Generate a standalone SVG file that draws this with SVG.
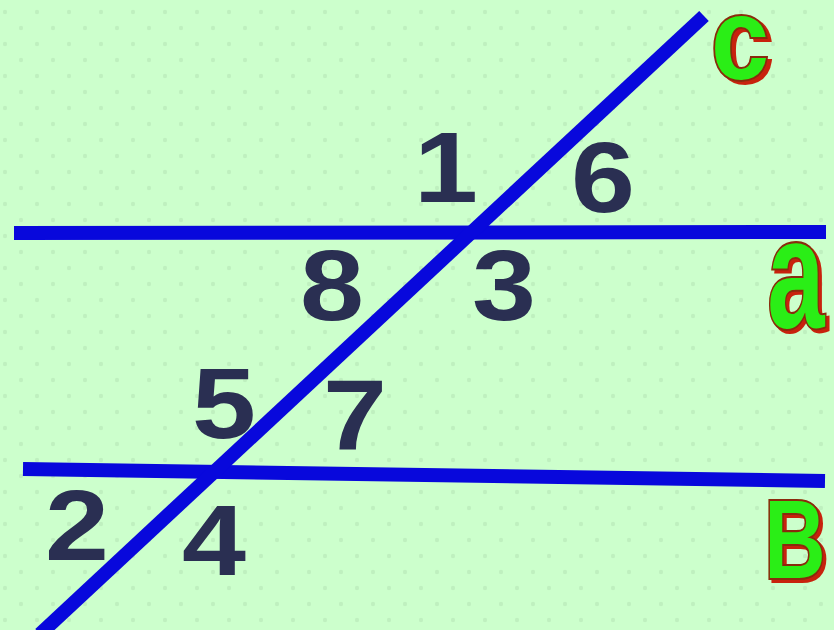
<svg xmlns="http://www.w3.org/2000/svg" width="834" height="630" viewBox="0 0 834 630">
<defs>
<pattern id="dots" width="32" height="32" patternUnits="userSpaceOnUse">
<circle cx="21" cy="28" r="2.2" fill="#b6e6b6" opacity="0.6"/>
<circle cx="5" cy="12" r="2.2" fill="#b6e6b6" opacity="0.6"/>
</pattern>
<filter id="shadow" x="-20%" y="-20%" width="150%" height="150%">
<feOffset in="SourceAlpha" dx="4" dy="3" result="off"/>
<feFlood flood-color="#c8240c"/>
<feComposite in2="off" operator="in" result="sh"/>
<feMerge><feMergeNode in="sh"/><feMergeNode in="SourceGraphic"/></feMerge>
</filter>
<style>
.ln{stroke:#0808dc;stroke-width:14;fill:none;stroke-linecap:butt}
.num{font-family:"Liberation Sans",Arial,sans-serif;font-weight:bold;font-size:100px;fill:#2a2f52;text-anchor:middle}
.lt{font-family:"Liberation Sans",Arial,sans-serif;font-weight:bold;text-anchor:middle;fill:#2cee14;stroke:#8a2a08;stroke-width:4;paint-order:stroke;filter:url(#shadow)}
</style>
</defs>
<rect width="834" height="630" fill="#ccffcc"/>
<rect width="834" height="630" fill="url(#dots)"/>
<g id="lines">
<line id="line-a" class="ln" x1="14" y1="233" x2="826" y2="232"/>
<line id="line-b" class="ln" x1="23" y1="469" x2="825" y2="481"/>
<line id="line-c" class="ln" x1="704" y1="16" x2="40" y2="634"/>
</g>
<g id="angles">
<text class="num" transform="translate(446,202) scale(1.15,1)">1</text>
<text class="num" transform="translate(603,212) scale(1.15,1)">6</text>
<text class="num" transform="translate(332,320) scale(1.15,1)">8</text>
<text class="num" transform="translate(504,320) scale(1.15,1)">3</text>
<text class="num" transform="translate(224,438) scale(1.15,1)">5</text>
<text class="num" transform="translate(355,450) scale(1.15,1)">7</text>
<text class="num" transform="translate(77,560) scale(1.15,1)">2</text>
<text class="num" transform="translate(214,575) scale(1.15,1)">4</text>
</g>
<g id="label-c">
<text class="lt" font-size="116" transform="translate(740,79) scale(0.9,1)">c</text>
</g>
<g id="label-a">
<text class="lt" font-size="156" transform="translate(796,327) scale(0.66,1)">a</text>
</g>
<g id="label-b">
<text class="lt" font-size="112" transform="translate(795,578) scale(0.76,1)">B</text>
</g>
</svg>
